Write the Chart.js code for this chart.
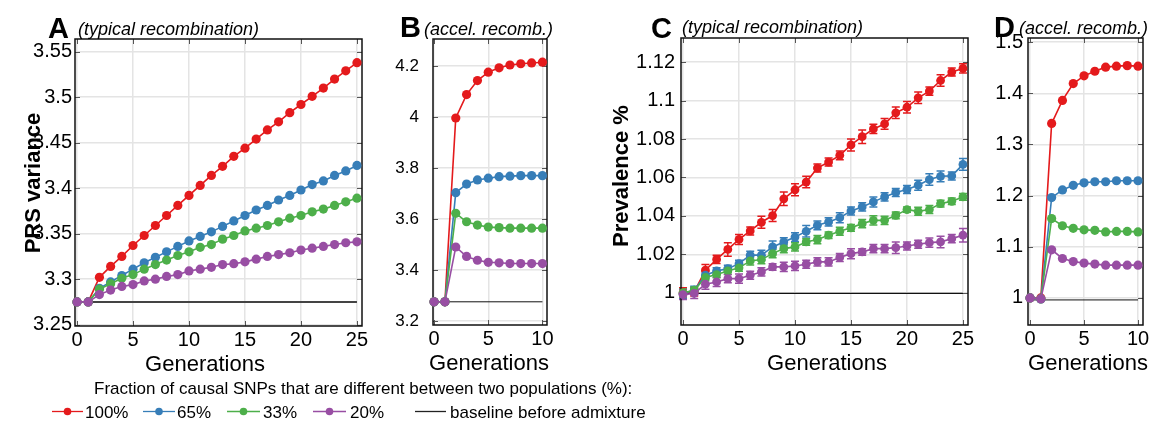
<!DOCTYPE html>
<html><head><meta charset="utf-8">
<script src="https://cdn.jsdelivr.net/npm/chart.js@4.4.1/dist/chart.umd.min.js"></script>
<style>
html,body{margin:0;padding:0;background:#fff;}
#wrap{position:relative;width:1156px;height:421px;overflow:hidden;background:#fff;}
canvas{position:absolute;top:0;}
svg{position:absolute;left:0;top:0;font-family:'Liberation Sans',Arial,sans-serif;}
</style></head><body>
<div id="wrap">
<canvas id="cA"></canvas>
<canvas id="cB"></canvas>
<canvas id="cC"></canvas>
<canvas id="cD"></canvas>
<svg width="1156" height="421" xmlns="http://www.w3.org/2000/svg">
  <g fill="#000">
    <text x="48" y="38" font-size="29" font-weight="bold">A</text>
    <text x="78" y="35" font-size="18" font-style="italic">(typical recombination)</text>
    <text x="400" y="37" font-size="29" font-weight="bold">B</text>
    <text x="424" y="35" font-size="18" font-style="italic">(accel. recomb.)</text>
    <text x="651" y="38" font-size="29" font-weight="bold">C</text>
    <text x="682" y="33" font-size="18" font-style="italic">(typical recombination)</text>
    <text x="994" y="37" font-size="29" font-weight="bold">D</text>
    <text x="1019" y="34" font-size="18" font-style="italic">(accel. recomb.)</text>
    <text transform="translate(40,183) rotate(-90)" text-anchor="middle" font-size="22" font-weight="bold">PRS variance</text>
    <text transform="translate(628,176) rotate(-90)" text-anchor="middle" font-size="22" font-weight="bold">Prevalence %</text>
    <text x="205" y="371" text-anchor="middle" font-size="22">Generations</text>
    <text x="489" y="370" text-anchor="middle" font-size="22">Generations</text>
    <text x="827" y="370" text-anchor="middle" font-size="22">Generations</text>
    <text x="1088" y="370" text-anchor="middle" font-size="22">Generations</text>
    <text x="94" y="394" font-size="17">Fraction of causal SNPs that are different between two populations (%):</text>
  </g>
  <g id="legend"></g>
</svg>
</div>
<script>
// ---------- data ----------
const gensLong = [0,1,2,3,4,5,6,7,8,9,10,11,12,13,14,15,16,17,18,19,20,21,22,23,24,25];
const gensShort = [0,1,2,3,4,5,6,7,8,9,10];
const seriesLabels = ['100%','65%','33%','20%'];
const seriesColors = ['#e41a1c','#377eb8','#4daf4a','#984ea3'];
const baselineLabel = 'baseline before admixture';

// Panel A: PRS variance, typical recombination
const prsTyp100 = [3.275,3.275,3.302,3.314,3.325,3.337,3.348,3.359,3.370,3.381,3.392,3.403,3.414,3.424,3.435,3.444,3.454,3.464,3.473,3.483,3.492,3.501,3.510,3.520,3.529,3.538];
const prsTyp65  = [3.275,3.275,3.290,3.297,3.304,3.311,3.318,3.324,3.330,3.336,3.342,3.347,3.352,3.358,3.364,3.370,3.376,3.381,3.387,3.392,3.398,3.404,3.408,3.414,3.419,3.425];
const prsTyp33  = [3.275,3.275,3.289,3.295,3.301,3.305,3.311,3.316,3.321,3.326,3.330,3.335,3.338,3.344,3.348,3.353,3.356,3.359,3.363,3.367,3.370,3.374,3.377,3.381,3.385,3.389];
const prsTyp20  = [3.275,3.275,3.283,3.288,3.292,3.294,3.298,3.300,3.303,3.305,3.309,3.311,3.313,3.316,3.317,3.319,3.322,3.325,3.327,3.329,3.332,3.334,3.336,3.338,3.340,3.341];
const prsBaseline = 3.275;

// Panel B: PRS variance, accelerated recombination
const prsAcc100 = [3.275,3.275,3.996,4.088,4.143,4.176,4.193,4.204,4.209,4.212,4.215];
const prsAcc65  = [3.275,3.275,3.703,3.737,3.753,3.760,3.766,3.768,3.770,3.770,3.770];
const prsAcc33  = [3.275,3.275,3.622,3.589,3.576,3.568,3.566,3.564,3.564,3.564,3.564];
const prsAcc20  = [3.275,3.275,3.490,3.453,3.438,3.430,3.428,3.425,3.425,3.425,3.425];

// Panel C: prevalence %, typical recombination (mean and error half-widths)
const prevTyp100 = [1.0000,1.0005,1.0118,1.0174,1.0226,1.0278,1.0322,1.0367,1.0402,1.0489,1.0536,1.0576,1.0649,1.0680,1.0715,1.0769,1.0812,1.0852,1.0878,1.0936,1.0965,1.1014,1.1049,1.1104,1.1148,1.1167];
const prevTyp65  = [0.9995,1.0014,1.0092,1.0114,1.0126,1.0152,1.0196,1.0196,1.0239,1.0265,1.0290,1.0320,1.0351,1.0369,1.0391,1.0426,1.0447,1.0473,1.0499,1.0522,1.0537,1.0560,1.0589,1.0606,1.0608,1.0668];
const prevTyp33  = [1.0000,1.0014,1.0080,1.0095,1.0114,1.0130,1.0166,1.0173,1.0204,1.0230,1.0239,1.0265,1.0277,1.0300,1.0320,1.0338,1.0360,1.0377,1.0377,1.0403,1.0433,1.0424,1.0433,1.0464,1.0476,1.0499];
const prevTyp20  = [0.9991,0.9997,1.0045,1.0057,1.0074,1.0074,1.0092,1.0109,1.0135,1.0135,1.0140,1.0149,1.0161,1.0161,1.0184,1.0204,1.0213,1.0230,1.0230,1.0235,1.0244,1.0253,1.0261,1.0265,1.0282,1.0300];
const prevErr100 = [0.0026,0.0021,0.0030,0.0021,0.0035,0.0026,0.0021,0.0031,0.0031,0.0035,0.0031,0.0030,0.0021,0.0021,0.0023,0.0031,0.0035,0.0024,0.0028,0.0030,0.0030,0.0030,0.0021,0.0030,0.0021,0.0024];
const prevErr65  = [0.0026,0.0021,0.0017,0.0017,0.0017,0.0017,0.0021,0.0026,0.0031,0.0021,0.0023,0.0030,0.0023,0.0021,0.0026,0.0021,0.0021,0.0026,0.0021,0.0021,0.0021,0.0026,0.0030,0.0028,0.0021,0.0030];
const prevErr33  = [0.0021,0.0017,0.0017,0.0017,0.0017,0.0017,0.0021,0.0021,0.0021,0.0021,0.0021,0.0017,0.0021,0.0017,0.0021,0.0017,0.0021,0.0024,0.0021,0.0017,0.0014,0.0021,0.0021,0.0017,0.0017,0.0017];
const prevErr20  = [0.0026,0.0026,0.0026,0.0024,0.0021,0.0024,0.0021,0.0021,0.0017,0.0024,0.0024,0.0021,0.0021,0.0021,0.0021,0.0026,0.0017,0.0021,0.0021,0.0030,0.0021,0.0021,0.0024,0.0030,0.0021,0.0035];
const prevBaselineC = 0.9997;

// Panel D: prevalence %, accelerated recombination
const prevAcc100 = [1.000,1.000,1.341,1.386,1.419,1.434,1.443,1.451,1.453,1.454,1.453];
const prevAcc65  = [1.000,0.998,1.196,1.211,1.220,1.225,1.227,1.227,1.229,1.229,1.229];
const prevAcc33  = [1.000,0.998,1.155,1.141,1.136,1.133,1.132,1.129,1.130,1.130,1.129];
const prevAcc20  = [1.000,0.998,1.094,1.077,1.071,1.068,1.066,1.064,1.064,1.064,1.064];
const prevBaselineD = 0.996;

// tick values
const xTicksLong = [0,5,10,15,20,25];
const xTicksShort = [0,5,10];
const yTicksA = [3.25,3.3,3.35,3.4,3.45,3.5,3.55];
const yTicksB = [3.2,3.4,3.6,3.8,4,4.2];
const yTicksC = [1,1.02,1.04,1.06,1.08,1.1,1.12];
const yTicksD = [1,1.1,1.2,1.3,1.4,1.5];

// ---------- helpers ----------
Chart.defaults.font.family = "'Liberation Sans', Arial, sans-serif";
Chart.defaults.color = '#000';

const framePlugin = {
  id: 'frame',
  beforeDatasetsDraw(chart) {
    const {ctx, chartArea: a, scales: {x, y}} = chart;
    ctx.save();
    // error bars
    chart.data.datasets.forEach((ds) => {
      if (!ds.errorBars) return;
      ctx.strokeStyle = ds.errorColor || ds.borderColor;
      ctx.lineWidth = 1.5;
      ds.data.forEach((p, k) => {
        const e = ds.errorBars[k];
        const px = x.getPixelForValue(p.x);
        const y1 = y.getPixelForValue(p.y - e), y2 = y.getPixelForValue(p.y + e);
        ctx.beginPath();
        ctx.moveTo(px, y1); ctx.lineTo(px, y2);
        ctx.moveTo(px - 4, y1); ctx.lineTo(px + 4, y1);
        ctx.moveTo(px - 4, y2); ctx.lineTo(px + 4, y2);
        ctx.stroke();
      });
    });
    // inward ticks
    ctx.strokeStyle = '#555'; ctx.lineWidth = 1;
    ctx.beginPath();
    x.ticks.forEach(t => {
      const px = Math.round(x.getPixelForValue(t.value)) + 0.5;
      ctx.moveTo(px, a.bottom); ctx.lineTo(px, a.bottom - 5);
      ctx.moveTo(px, a.top); ctx.lineTo(px, a.top + 5);
    });
    y.ticks.forEach(t => {
      const py = Math.round(y.getPixelForValue(t.value)) + 0.5;
      ctx.moveTo(a.left, py); ctx.lineTo(a.left + 5, py);
      ctx.moveTo(a.right, py); ctx.lineTo(a.right - 5, py);
    });
    ctx.stroke();
    // frame
    ctx.strokeStyle = '#111'; ctx.lineWidth = 1.5;
    ctx.strokeRect(a.left, a.top, a.right - a.left, a.bottom - a.top);
    ctx.restore();
  }
};

function makeChart(id, box, area, cfg) {
  const cv = document.getElementById(id);
  cv.width = box.w; cv.height = box.h; cv.style.left = box.x + 'px';
  cv.style.width = box.w + 'px'; cv.style.height = box.h + 'px';
  const yW = area.L - box.x;
  const xH = box.h - area.B;
  const datasets = cfg.series.map((vals, i) => ({
    label: seriesLabels[i],
    data: cfg.gens.map((g, k) => ({x: g, y: vals[k]})),
    borderColor: seriesColors[i],
    backgroundColor: seriesColors[i],
    pointBackgroundColor: seriesColors[i],
    pointBorderWidth: 0,
    pointRadius: cfg.pointRadius || 4.6,
    borderWidth: 1.6,
    order: 4 - i,
    clip: false,
    errorBars: cfg.errors ? cfg.errors[i] : null
  }));
  datasets.push({
    label: baselineLabel,
    data: [{x: cfg.gens[0], y: cfg.baseline}, {x: cfg.gens[cfg.gens.length - 1], y: cfg.baseline}],
    borderColor: cfg.baseColor, borderWidth: cfg.baseWidth, pointRadius: 0, order: 10, clip: false
  });
  return new Chart(cv, {
    type: 'line',
    data: {datasets},
    plugins: [framePlugin],
    options: {
      responsive: false, animation: false, devicePixelRatio: 1, events: [],
      layout: {padding: {left: 0, top: area.T, right: box.x + box.w - area.R, bottom: 0}},
      plugins: {legend: {display: false}, tooltip: {enabled: false}, title: {display: false}},
      scales: {
        x: {
          type: 'linear', position: 'bottom', min: cfg.xMin, max: cfg.xMax,
          afterBuildTicks: s => { s.ticks = cfg.xTicks.map(v => ({value: v})); },
          afterFit: s => { s.height = xH; },
          ticks: {font: {size: 20}, padding: 2, color: '#000', maxRotation: 0, autoSkip: false, callback: v => String(v)},
          grid: {color: '#e4e4e4', lineWidth: 1.5, drawTicks: false},
          border: {display: false}
        },
        y: {
          type: 'linear', position: 'left', min: cfg.yMin, max: cfg.yMax,
          afterBuildTicks: s => { s.ticks = cfg.yTicks.map(v => ({value: v})); },
          afterFit: s => { s.width = yW; },
          ticks: {font: {size: cfg.yFont}, padding: cfg.yPad, color: '#000', autoSkip: false, callback: v => String(v)},
          grid: {color: '#e4e4e4', lineWidth: 1.5, drawTicks: false},
          border: {display: false}
        }
      }
    }
  });
}

makeChart('cA', {x: 0, w: 380, h: 350}, {L: 75, R: 362, T: 39, B: 326}, {
  gens: gensLong, series: [prsTyp100, prsTyp65, prsTyp33, prsTyp20], baseline: prsBaseline,
  baseColor: '#444', baseWidth: 2, xMin: -0.18, xMax: 25.45, yMin: 3.2485, yMax: 3.564,
  xTicks: xTicksLong, yTicks: yTicksA, yFont: 20, yPad: 3
});
makeChart('cB', {x: 390, w: 170, h: 350}, {L: 433, R: 547, T: 39, B: 325}, {
  gens: gensShort, series: [prsAcc100, prsAcc65, prsAcc33, prsAcc20], baseline: prsBaseline,
  baseColor: '#111', baseWidth: 1, xMin: -0.1, xMax: 10.42, yMin: 3.184, yMax: 4.306,
  xTicks: xTicksShort, yTicks: yTicksB, yFont: 17, yPad: 14
});
makeChart('cC', {x: 570, w: 410, h: 350}, {L: 681, R: 968, T: 38, B: 325}, {
  gens: gensLong, series: [prevTyp100, prevTyp65, prevTyp33, prevTyp20], baseline: prevBaselineC,
  errors: [prevErr100, prevErr65, prevErr33, prevErr20],
  baseColor: '#111', baseWidth: 1.2, xMin: -0.18, xMax: 25.45, yMin: 0.9833, yMax: 1.1325,
  xTicks: xTicksLong, yTicks: yTicksC, yFont: 20, yPad: 6, pointRadius: 4.4
});
makeChart('cD', {x: 985, w: 171, h: 350}, {L: 1028, R: 1143, T: 38, B: 325}, {
  gens: gensShort, series: [prevAcc100, prevAcc65, prevAcc33, prevAcc20], baseline: prevBaselineD,
  baseColor: '#111', baseWidth: 1, xMin: -0.19, xMax: 10.46, yMin: 0.947, yMax: 1.508,
  xTicks: xTicksShort, yTicks: yTicksD, yFont: 20, yPad: 5
});

// ---------- legend (SVG swatches + text) ----------
const legendItems = [
  {x1: 52, x2: 83, tx: 85},
  {x1: 143, x2: 175, tx: 177},
  {x1: 227, x2: 260, tx: 263},
  {x1: 313, x2: 346, tx: 350}
];
const NS = 'http://www.w3.org/2000/svg';
const lg = document.getElementById('legend');
function el(tag, attrs, text) {
  const e = document.createElementNS(NS, tag);
  for (const k in attrs) e.setAttribute(k, attrs[k]);
  if (text) e.textContent = text;
  lg.appendChild(e); return e;
}
const ly = 411.5;
legendItems.forEach((it, i) => {
  el('line', {x1: it.x1, x2: it.x2, y1: ly, y2: ly, stroke: seriesColors[i], 'stroke-width': 1.3});
  el('circle', {cx: (it.x1 + it.x2) / 2, cy: ly, r: 3.8, fill: seriesColors[i]});
  el('text', {x: it.tx, y: 418, 'font-size': 17, fill: '#000'}, seriesLabels[i]);
});
el('line', {x1: 415, x2: 446, y1: ly, y2: ly, stroke: '#222', 'stroke-width': 1.3});
el('text', {x: 450, y: 418, 'font-size': 17, fill: '#000'}, baselineLabel);
</script>
</body></html>
